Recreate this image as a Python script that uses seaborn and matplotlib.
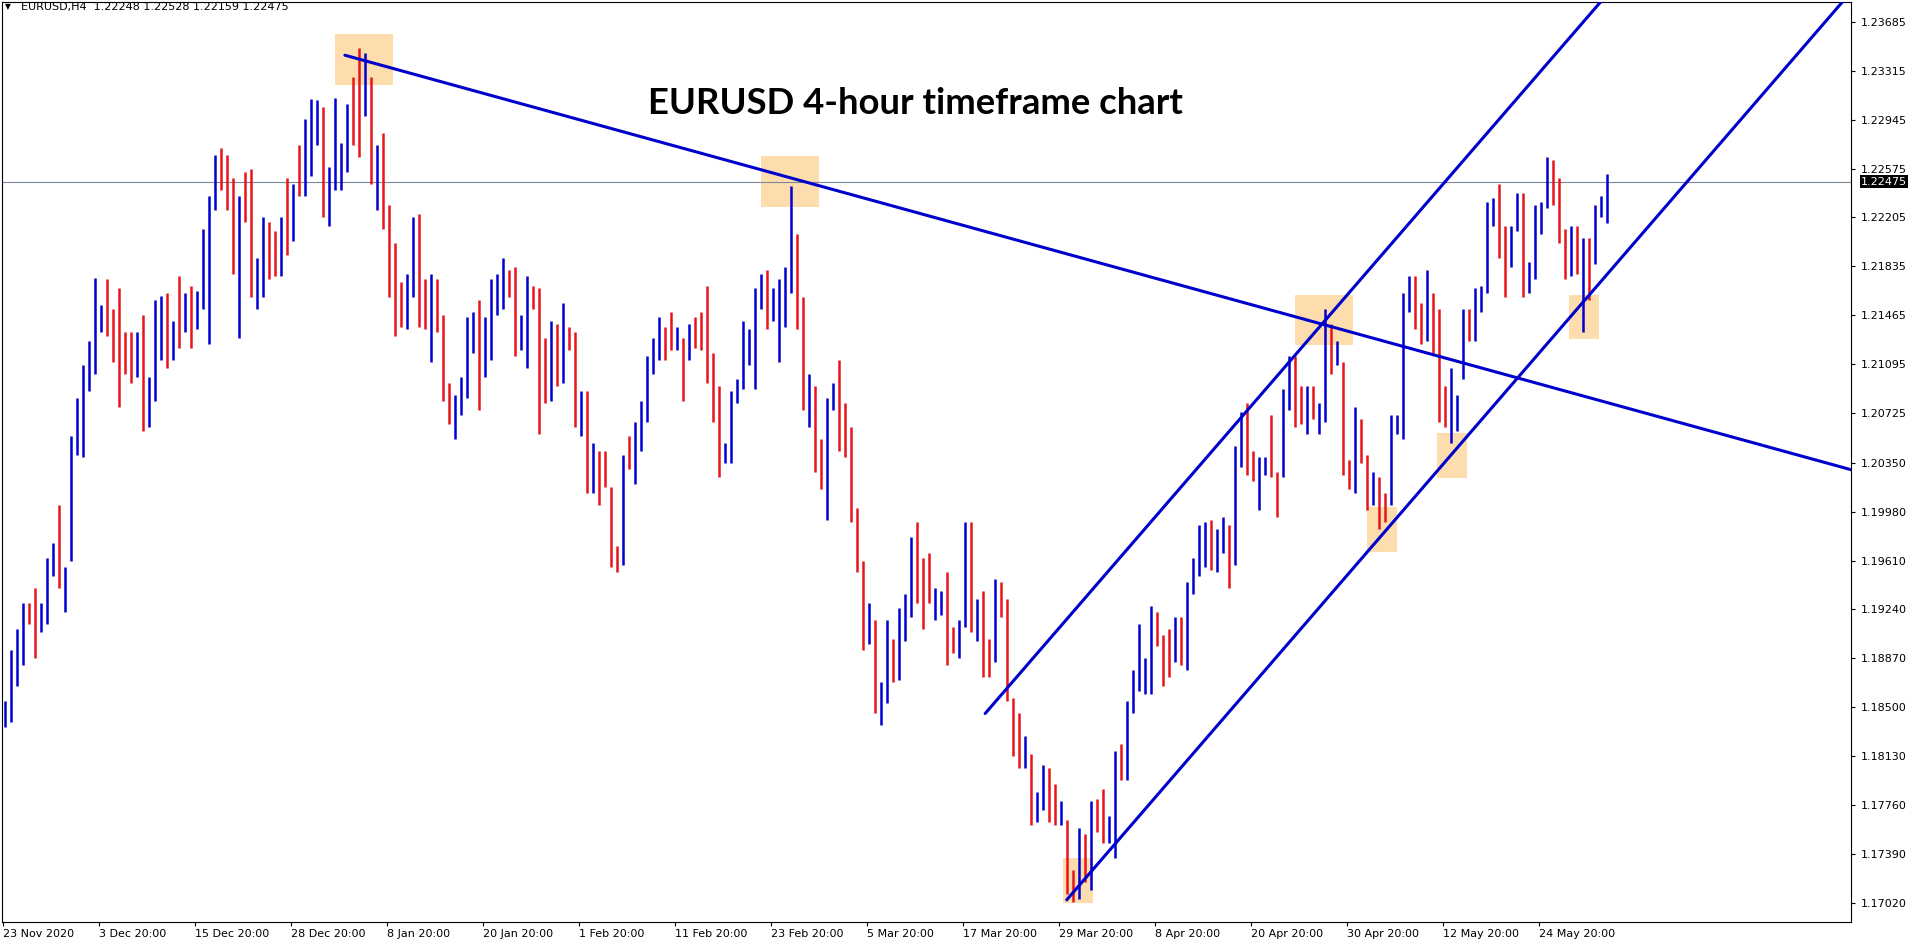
import numpy as np
import pandas as pd
import matplotlib
matplotlib.use("Agg")
import matplotlib.pyplot as plt
from matplotlib.patches import Rectangle
import seaborn as sns

# EURUSD H4 in blocks of 3 candles, prices * 10000
high = [11855, 11893, 11909, 11929, 11929, 11940, 11929, 11963, 11974, 12003,
        11956, 12055, 12084, 12109, 12127, 12175, 12154, 12174, 12151, 12167,
        12134, 12134, 12134, 12147, 12100, 12158, 12161, 12163, 12142, 12176,
        12163, 12169, 12165, 12212, 12237, 12268, 12273, 12268, 12250, 12237,
        12255, 12257, 12190, 12221, 12217, 12210, 12221, 12250, 12246, 12275,
        12295, 12310, 12309, 12304, 12259, 12311, 12277, 12306, 12327, 12349,
        12345, 12327, 12275, 12284, 12230, 12201, 12172, 12178, 12221, 12223,
        12174, 12178, 12174, 12147, 12095, 12086, 12100, 12145, 12149, 12158,
        12145, 12174, 12178, 12190, 12181, 12183, 12147, 12176, 12169, 12167,
        12129, 12142, 12140, 12156, 12138, 12134, 12089, 12089, 12050, 12044,
        12044, 12017, 11972, 12041, 12055, 12066, 12082, 12116, 12129, 12145,
        12138, 12149, 12138, 12129, 12140, 12145, 12149, 12169, 12118, 12093,
        12050, 12089, 12098, 12142, 12136, 12167, 12178, 12181, 12167, 12174,
        12183, 12244, 12208, 12160, 12102, 12093, 12053, 12084, 12095, 12113,
        12080, 12062, 12001, 11961, 11929, 11916, 11869, 11916, 11902, 11925,
        11936, 11979, 11990, 11963, 11967, 11940, 11938, 11952, 11911, 11916,
        11990, 11990, 11932, 11938, 11902, 11947, 11945, 11932, 11857, 11846,
        11828, 11815, 11786, 11806, 11804, 11792, 11779, 11765, 11727, 11759,
        11754, 11779, 11781, 11788, 11768, 11817, 11822, 11855, 11878, 11913,
        11887, 11927, 11922, 11905, 11909, 11918, 11918, 11945, 11963, 11988,
        11990, 11992, 11985, 11994, 11988, 12048, 12073, 12080, 12044, 12039,
        12039, 12071, 12028, 12091, 12116, 12116, 12093, 12093, 12093, 12080,
        12151, 12140, 12127, 12111, 12037, 12077, 12068, 12041, 12028, 12024,
        12012, 12071, 12071, 12163, 12176, 12176, 12156, 12181, 12163, 12151,
        12093, 12107, 12086, 12151, 12151, 12167, 12169, 12232, 12235, 12246,
        12214, 12214, 12239, 12239, 12187, 12230, 12232, 12266, 12264, 12250,
        12212, 12214, 12214, 12205, 12205, 12230, 12237, 12253]
low = [11835, 11839, 11866, 11882, 11913, 11887, 11907, 11913, 11949, 11940,
       11922, 11961, 12041, 12039, 12089, 12102, 12134, 12131, 12111, 12077,
       12102, 12095, 12100, 12059, 12062, 12082, 12113, 12107, 12113, 12122,
       12134, 12122, 12136, 12151, 12125, 12226, 12241, 12226, 12178, 12129,
       12217, 12160, 12151, 12160, 12174, 12176, 12176, 12192, 12203, 12237,
       12237, 12252, 12275, 12221, 12214, 12241, 12241, 12255, 12275, 12266,
       12297, 12246, 12226, 12212, 12160, 12131, 12138, 12136, 12160, 12138,
       12136, 12111, 12134, 12082, 12064, 12053, 12071, 12084, 12118, 12075,
       12100, 12113, 12147, 12151, 12160, 12116, 12120, 12107, 12151, 12057,
       12080, 12082, 12093, 12095, 12120, 12062, 12055, 12012, 12012, 12003,
       12017, 11956, 11952, 11958, 12030, 12019, 12044, 12066, 12102, 12113,
       12113, 12120, 12120, 12082, 12113, 12122, 12120, 12095, 12066, 12024,
       12035, 12035, 12080, 12091, 12109, 12091, 12151, 12136, 12142, 12111,
       12138, 12163, 12136, 12075, 12062, 12028, 12015, 11992, 12075, 12044,
       12039, 11990, 11952, 11893, 11898, 11846, 11837, 11853, 11869, 11871,
       11900, 11918, 11929, 11909, 11929, 11916, 11920, 11882, 11891, 11887,
       11911, 11907, 11900, 11873, 11873, 11884, 11918, 11855, 11813, 11804,
       11804, 11761, 11763, 11772, 11763, 11761, 11761, 11709, 11703, 11705,
       11718, 11712, 11756, 11747, 11747, 11736, 11795, 11795, 11846, 11862,
       11860, 11860, 11896, 11866, 11873, 11884, 11882, 11878, 11936, 11949,
       11956, 11954, 11952, 11967, 11940, 11958, 12032, 12026, 12021, 11999,
       12026, 12024, 11994, 12024, 12075, 12062, 12064, 12057, 12068, 12057,
       12066, 12102, 12109, 12026, 12015, 12012, 12035, 11999, 12003, 11985,
       11990, 12003, 12057, 12053, 12149, 12136, 12125, 12127, 12118, 12066,
       12062, 12050, 12059, 12098, 12127, 12127, 12149, 12163, 12214, 12190,
       12160, 12183, 12210, 12160, 12163, 12174, 12208, 12228, 12230, 12201,
       12174, 12176, 12178, 12134, 12158, 12185, 12221, 12216]
close = [11853, 11887, 11898, 11925, 11920, 11913, 11927, 11961, 11967, 11945,
         11954, 12053, 12066, 12107, 12125, 12142, 12145, 12142, 12138, 12134,
         12116, 12102, 12120, 12062, 12098, 12102, 12154, 12131, 12140, 12125,
         12160, 12147, 12163, 12163, 12235, 12266, 12252, 12239, 12181, 12235,
         12219, 12163, 12187, 12219, 12203, 12178, 12219, 12208, 12244, 12241,
         12271, 12284, 12288, 12223, 12255, 12268, 12275, 12304, 12300, 12282,
         12309, 12250, 12264, 12237, 12178, 12169, 12151, 12174, 12212, 12178,
         12140, 12174, 12151, 12084, 12068, 12077, 12098, 12120, 12147, 12080,
         12142, 12142, 12170, 12179, 12165, 12118, 12122, 12174, 12154, 12116,
         12104, 12118, 12095, 12127, 12122, 12064, 12075, 12015, 12041, 12030,
         12019, 11958, 11954, 12039, 12032, 12064, 12080, 12091, 12127, 12138,
         12131, 12125, 12131, 12125, 12138, 12127, 12122, 12098, 12091, 12046,
         12049, 12064, 12097, 12113, 12113, 12165, 12176, 12158, 12160, 12169,
         12181, 12214, 12138, 12080, 12091, 12037, 12019, 12082, 12092, 12046,
         12041, 11992, 11954, 11916, 11927, 11848, 11866, 11891, 11871, 11891,
         11934, 11976, 11965, 11954, 11931, 11936, 11936, 11911, 11902, 11913,
         11970, 11909, 11911, 11909, 11878, 11945, 11920, 11857, 11817, 11806,
         11808, 11765, 11774, 11801, 11768, 11765, 11765, 11712, 11709, 11752,
         11730, 11777, 11770, 11752, 11763, 11815, 11813, 11853, 11866, 11869,
         11875, 11925, 11916, 11893, 11878, 11916, 11902, 11943, 11952, 11985,
         11988, 11958, 11983, 11985, 11943, 12026, 12071, 12030, 12024, 12035,
         12037, 12035, 12026, 12089, 12113, 12093, 12066, 12075, 12073, 12075,
         12138, 12104, 12111, 12028, 12021, 12075, 12037, 12001, 12026, 12015,
         12010, 12050, 12070, 12160, 12160, 12154, 12129, 12151, 12120, 12068,
         12064, 12064, 12085, 12149, 12129, 12149, 12167, 12201, 12232, 12226,
         12172, 12212, 12237, 12163, 12185, 12228, 12230, 12239, 12232, 12203,
         12176, 12210, 12187, 12203, 12201, 12228, 12235, 12247.5]
first_open = 11848

date_labels = ['23 Nov 2020', '3 Dec 20:00', '15 Dec 20:00', '28 Dec 20:00',
               '8 Jan 20:00', '20 Jan 20:00', '1 Feb 20:00', '11 Feb 20:00',
               '23 Feb 20:00', '5 Mar 20:00', '17 Mar 20:00', '29 Mar 20:00',
               '8 Apr 20:00', '20 Apr 20:00', '30 Apr 20:00', '12 May 20:00',
               '24 May 20:00']
price_ticks = [1.17020, 1.17390, 1.17760, 1.18130, 1.18500, 1.18870, 1.19240,
               1.19610, 1.19980, 1.20350, 1.20725, 1.21095, 1.21465, 1.21835,
               1.22205, 1.22575, 1.22945, 1.23315, 1.23685]
last_price = 1.22475
header = 'EURUSD,H4  1.22248 1.22528 1.22159 1.22475'
title = 'EURUSD 4-hour timeframe chart'

# drawn trend lines: (bar, price) -> (bar, price)
trend_lines = {
    'down': (56.6, 1.23432, 307.7, 1.20296),
    'channel_top': (163.3, 1.18453, 274.1, 1.24267),
    'channel_low': (176.9, 1.17044, 315.8, 1.24341),
}
# highlighted zones: bar from, bar to, price low, price high
zones = [(54.95, 64.57, 1.23208, 1.23589),
         (125.95, 135.6, 1.22284, 1.22669),
         (176.3, 181.3, 1.17020, 1.17361),
         (214.95, 224.6, 1.21238, 1.21620),
         (226.95, 231.95, 1.19678, 1.20015),
         (238.6, 243.6, 1.20238, 1.20575),
         (260.6, 265.6, 1.21283, 1.21620)]

df = pd.DataFrame({'high': np.array(high) / 1e4,
                   'low': np.array(low) / 1e4,
                   'close': np.array(close) / 1e4})
df['open'] = np.r_[first_open / 1e4, df['close'].values[:-1]]
df['bar'] = np.arange(len(df))
df['up'] = df['close'] >= df['open']

sns.set_style('white')
plt.rcParams['font.family'] = ['DejaVu Sans']

W, H = 1916, 946
fig = plt.figure(figsize=(W / 100, H / 100), dpi=100)
ax = fig.add_axes([2 / W, 23.7 / H, 1849 / W, 920.5 / H])

for x0, x1, lo, hi in zones:
    ax.add_patch(Rectangle((x0, lo), x1 - x0, hi - lo, facecolor='#fddcae',
                           edgecolor='none', zorder=1))

ax.axhline(last_price, color='#7b8794', lw=0.8, zorder=2)

colors = np.where(df['up'], '#0000d0', '#e8141c')
ax.vlines(df['bar'], df['low'], df['high'], colors=colors, lw=1.8, zorder=3)

rows = []
for name, (x0, p0, x1, p1) in trend_lines.items():
    rows += [(name, x0, p0), (name, x1, p1)]
tl = pd.DataFrame(rows, columns=['line', 'bar', 'price'])
sns.lineplot(data=tl, x='bar', y='price', units='line', estimator=None,
             color='#0000cd', lw=2.2, ax=ax, zorder=4, legend=False)

ax.set_xlim(-0.55, 307.6)
ax.set_ylim(1.16874, 1.23836)
ax.set_xlabel('')
ax.set_ylabel('')

ax.yaxis.tick_right()
ax.set_yticks(price_ticks)
ax.set_yticklabels([f'{p:.5f}' for p in price_ticks])
ax.set_xticks([16 * k - 1 / 3 for k in range(len(date_labels))])
ax.set_xticklabels(date_labels)
for t in ax.get_xticklabels():
    t.set_ha('left')
ax.tick_params(axis='both', direction='out', length=3, width=0.8,
               color='black', labelcolor='black', labelsize=8)
ax.tick_params(axis='x', pad=2, bottom=True)
ax.tick_params(axis='y', pad=4, right=True)
for s in ax.spines.values():
    s.set_visible(True)
    s.set_color('black')
    s.set_linewidth(0.8)

ax.text(1.0054, last_price, f'{last_price:.5f}', transform=ax.get_yaxis_transform(),
        ha='left', va='center', color='white', fontsize=8, clip_on=False, zorder=6,
        bbox=dict(boxstyle='square,pad=0.12', fc='black', ec='none'))

fig.text(5 / W, 1 - 7 / H, '\u25bc', fontsize=5.5, va='center', color='black')
fig.text(21 / W, 1 - 7 / H, header, fontsize=8, va='center', color='black')

t = fig.text(915 / W, 1 - 114 / H, title, ha='center', va='baseline',
             fontweight='bold', family=['Lato', 'DejaVu Sans'], fontsize=28,
             color='black')
fig.canvas.draw()
w = t.get_window_extent().width
t.set_fontsize(28 * 536 / w)

fig.savefig('out.png', dpi=100)
